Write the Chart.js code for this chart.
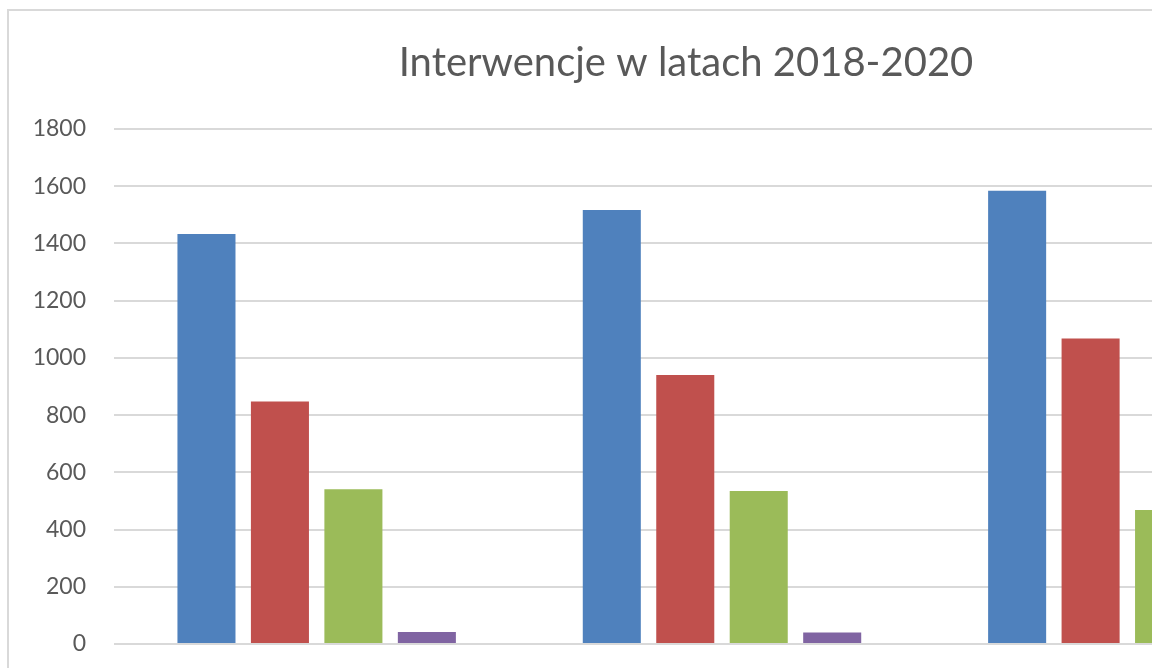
<!DOCTYPE html>
<html>
<head>
<meta charset="utf-8">
<script src="https://cdn.jsdelivr.net/npm/chart.js@4"></script>
<style>
    html, body { margin: 0; padding: 0; background: #fff; overflow: hidden; }
    .frame {
        position: absolute;
        left: 7px; top: 9px;
        width: 1400px; height: 760px;
        border: 2px solid #d9d9d9;
    }
    #chart { position: absolute; left: 10px; top: 11px; }
</style>
</head>
<body>
<div class="frame"></div>
<canvas id="chart" width="1352" height="720"></canvas>
<script>
// Data (third group is cut at the right edge)
const years = ['2018', '2019', '2020'];
const seriesNames = ['Seria1', 'Seria2', 'Seria3', 'Seria4'];
const seria1 = [1433, 1517, 1584];
const seria2 = [848, 940, 1068];
const seria3 = [541, 535, 468];
const seria4 = [42, 40, 38];
const yTicks = [0, 200, 400, 600, 800, 1000, 1200, 1400, 1600, 1800];

const colors = ['#4F81BD', '#C0504D', '#9BBB59', '#8064A2'];
const textColor = '#595959';

const ctx = document.getElementById('chart').getContext('2d');

new Chart(ctx, {
    type: 'bar',
    data: {
        labels: years,
        datasets: [seria1, seria2, seria3, seria4].map((values, i) => ({
            label: seriesNames[i],
            data: values,
            backgroundColor: colors[i],
            borderWidth: 0,
            categoryPercentage: 0.725,
            barPercentage: 0.79
        }))
    },
    options: {
        responsive: false,
        animation: false,
        layout: {
            padding: 0
        },
        plugins: {
            legend: { display: false },
            tooltip: { enabled: false },
            title: {
                display: true,
                text: 'Interwencje w latach 2018-2020',
                color: textColor,
                font: { family: 'Lato', size: 40, weight: 'normal' },
                padding: { top: 28, bottom: 42 }
            }
        },
        scales: {
            x: {
                grid: { display: false },
                border: { display: false },
                ticks: {
                    color: textColor,
                    padding: 22,  // year labels fall below the visible crop
                    font: { family: 'Lato', size: 23 }
                },
                afterFit: (scale) => { scale.height = 87; }
            },
            y: {
                min: 0,
                max: 1800,
                afterBuildTicks: (scale) => {
                    scale.ticks = yTicks.map(v => ({ value: v }));
                },
                afterFit: (scale) => { scale.width = 104; },
                border: { display: false },
                grid: {
                    color: '#d9d9d9',
                    lineWidth: 2,
                    drawTicks: false
                },
                ticks: {
                    color: textColor,
                    padding: 28,
                    font: { family: 'Lato', size: 23 },
                    callback: (value) => String(value)
                }
            },
            // empty strip on the right so the title sits where the reference has it
            spacer: {
                type: 'linear',
                position: 'right',
                grid: { display: false },
                border: { display: false },
                ticks: { display: false },
                afterFit: (scale) => { scale.width = 32; }
            }
        }
    }
});
</script>
</body>
</html>
